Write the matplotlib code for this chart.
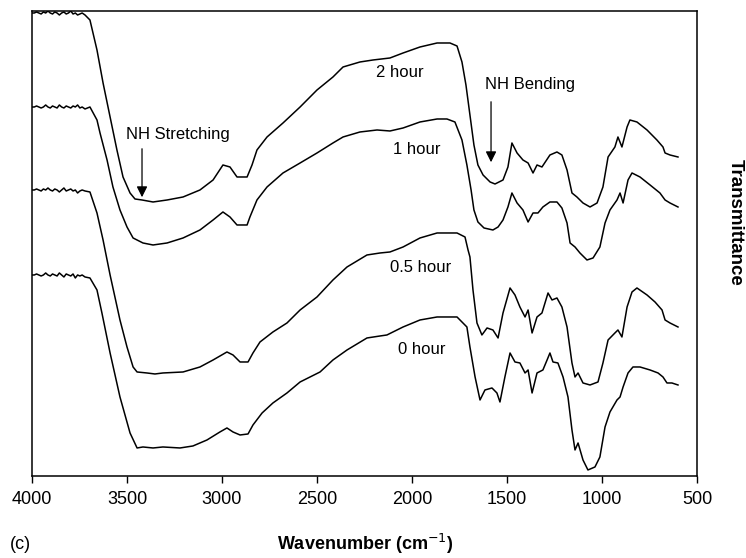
import matplotlib.pyplot as plt

# noisy flat part at the high wavenumber end (shared wavenumber grid)
wn_flat = [4000, 3988, 3976, 3964, 3952, 3940, 3928, 3916, 3904, 3892, 3880, 3868,
           3856, 3844, 3832, 3820, 3808, 3796, 3784, 3772, 3760, 3748, 3736, 3721]

# wavenumber (cm-1) and transmittance (arbitrary, offset)
wn_2h = wn_flat + [
    3695, 3658, 3626, 3589, 3553, 3521, 3484, 3458, 3421, 3363, 3289, 3205, 3116,
    3047, 2995, 2958, 2921, 2868, 2842, 2816, 2763, 2679, 2589, 2500, 2416, 2363,
    2274, 2205, 2116, 2047, 1958, 1868, 1800, 1763, 1737, 1716, 1695, 1674, 1653,
    1626, 1589, 1563, 1521, 1495, 1474, 1447, 1416, 1389, 1363, 1342, 1316, 1274,
    1237, 1211, 1184, 1158, 1132, 1100, 1063, 1026, 995, 968, 932, 916, 895, 868,
    853, 816, 763, 711, 679, 668, 642, 600]
tr_2h = [463, 463, 464, 463, 462, 464, 463, 465, 463, 462, 464, 463,
         461, 463, 464, 462, 463, 465, 462, 463, 461, 462, 463, 461] + [
    456, 426, 393, 359, 326, 299, 283, 277, 276, 274, 276, 279, 286,
    296, 311, 309, 299, 299, 311, 326, 339, 353, 369, 386, 399, 409,
    414, 416, 418, 423, 429, 433, 433, 430, 414, 391, 361, 331, 311,
    301, 294, 292, 296, 309, 333, 323, 316, 313, 303, 311, 309, 321,
    324, 321, 306, 283, 279, 273, 269, 273, 289, 319, 329, 339, 329, 349,
    356, 354, 346, 336, 329, 323, 321, 319]

wn_1h = wn_flat + [
    3695, 3658, 3642, 3605, 3574, 3537, 3500, 3468, 3416, 3363, 3289, 3205, 3116,
    3047, 2995, 2958, 2921, 2868, 2853, 2816, 2763, 2679, 2589, 2500, 2416, 2363,
    2274, 2184, 2116, 2047, 1958, 1868, 1816, 1774, 1737, 1711, 1689, 1674, 1653,
    1621, 1574, 1547, 1521, 1495, 1474, 1447, 1416, 1389, 1363, 1337, 1311, 1274,
    1237, 1211, 1184, 1168, 1142, 1116, 1079, 1047, 1011, 984, 958, 921, 905, 889,
    863, 842, 800, 747, 695, 668, 642, 600]
tr_1h = [369, 369, 370, 369, 368, 369, 371, 369, 368, 370, 369, 368,
         371, 369, 368, 370, 369, 368, 370, 369, 371, 368, 369, 367] + [
    369, 356, 343, 316, 289, 266, 249, 238, 233, 231, 233, 238, 246,
    256, 264, 259, 251, 251, 259, 276, 289, 303, 313, 323, 333, 339,
    344, 346, 345, 348, 354, 357, 357, 354, 336, 311, 286, 266, 254,
    248, 246, 249, 256, 269, 283, 273, 266, 254, 263, 263, 269, 274,
    274, 268, 253, 233, 229, 223, 216, 218, 229, 253, 266, 276, 283, 273,
    296, 303, 299, 291, 283, 276, 273, 269]

wn_05h = wn_flat + [
    3695, 3658, 3626, 3589, 3537, 3500, 3468, 3447, 3395, 3353, 3311, 3205, 3116,
    3047, 2974, 2942, 2905, 2863, 2837, 2800, 2732, 2658, 2589, 2500, 2416, 2342,
    2237, 2168, 2116, 2047, 1958, 1868, 1763, 1721, 1705, 1695, 1679, 1658, 1632,
    1605, 1574, 1547, 1521, 1484, 1458, 1432, 1405, 1389, 1368, 1342, 1316, 1300,
    1284, 1263, 1237, 1211, 1184, 1158, 1142, 1126, 1100, 1063, 1021, 995, 968,
    932, 916, 895, 868, 842, 816, 763, 721, 684, 668, 642, 600]
tr_05h = [286, 286, 287, 286, 285, 287, 286, 288, 286, 285, 287, 286,
          284, 286, 288, 285, 286, 287, 285, 286, 283, 285, 286, 285] + [
    284, 263, 236, 201, 156, 129, 109, 104, 103, 102, 103, 104, 109,
    116, 124, 121, 114, 114, 123, 134, 144, 153, 166, 179, 196, 209,
    221, 223, 224, 229, 238, 243, 243, 239, 226, 219, 186, 153, 141,
    148, 146, 138, 163, 188, 181, 169, 159, 166, 143, 159, 163, 173,
    183, 176, 178, 169, 149, 113, 99, 103, 93, 91, 94, 113, 136,
    143, 146, 139, 169, 184, 188, 181, 174, 166, 156, 153, 149]

wn_0h = wn_flat + [
    3695, 3658, 3632, 3589, 3537, 3484, 3447, 3416, 3363, 3311, 3221, 3153, 3079,
    3011, 2974, 2942, 2905, 2863, 2837, 2789, 2732, 2658, 2589, 2484, 2416, 2342,
    2237, 2168, 2132, 2047, 1958, 1868, 1763, 1711, 1695, 1668, 1642, 1616, 1579,
    1553, 1537, 1511, 1484, 1458, 1432, 1405, 1389, 1368, 1342, 1311, 1289, 1274,
    1258, 1232, 1205, 1179, 1158, 1142, 1126, 1100, 1074, 1037, 1011, 984, 958,
    921, 905, 889, 863, 837, 800, 747, 705, 679, 658, 632, 600]
tr_0h = [201, 201, 202, 201, 200, 201, 203, 201, 200, 202, 201, 200,
         203, 201, 199, 202, 201, 200, 202, 198, 201, 200, 201, 199] + [
    198, 186, 163, 123, 79, 43, 28, 29, 28, 29, 28, 30, 36,
    44, 48, 44, 41, 42, 51, 63, 73, 83, 94, 104, 116, 126,
    138, 140, 141, 149, 156, 159, 159, 149, 129, 99, 76, 86, 88,
    83, 74, 99, 123, 114, 113, 103, 106, 83, 103, 106, 116, 123,
    114, 113, 99, 79, 46, 26, 33, 16, 6, 9, 19, 49, 64,
    76, 79, 89, 103, 109, 109, 106, 103, 99, 93, 93, 91]

curve_labels = ["2 hour", "1 hour", "0.5 hour", "0 hour"]
label_wn = [2063, 1974, 1953, 1947]
label_tr = [403, 326, 208, 126]

plt.rcParams['font.family'] = ['Liberation Sans', 'DejaVu Sans']

fig = plt.figure(figsize=(7.46, 5.58), dpi=100)
ax = fig.add_axes([0.0429, 0.147, 0.8914, 0.8333])

for wn, tr in [(wn_2h, tr_2h), (wn_1h, tr_1h), (wn_05h, tr_05h), (wn_0h, tr_0h)]:
    ax.plot(wn, tr, color='black', lw=1.1)

for txt, x, y in zip(curve_labels, label_wn, label_tr):
    ax.text(x, y, txt, fontsize=12, ha='center', va='center')

ax.annotate("", xy=(3421, 276), xytext=(3421, 330),
            arrowprops=dict(arrowstyle='-|>', color='black', lw=0.9, mutation_scale=16))
ax.text(3232, 341, "NH Stretching", fontsize=12, ha='center', va='center')
ax.annotate("", xy=(1584, 311), xytext=(1584, 377),
            arrowprops=dict(arrowstyle='-|>', color='black', lw=0.9, mutation_scale=16))
ax.text(1379, 391, "NH Bending", fontsize=12, ha='center', va='center')

ax.set_xlim(4000, 500)
ax.set_ylim(0, 465)
ax.set_xticks([4000, 3500, 3000, 2500, 2000, 1500, 1000, 500])
ax.set_yticks([])
ax.tick_params(axis='x', direction='out', length=5, width=1, labelsize=13, pad=6)
for s in ax.spines.values():
    s.set_linewidth(1.1)

fig.text(0.489, 0.025, "Wavenumber (cm$^{-1}$)", fontsize=13, fontweight='bold',
         ha='center', va='center')
fig.text(0.028, 0.025, "(c)", fontsize=13, ha='center', va='center')
fig.text(0.985, 0.602, "Transmittance", fontsize=13.5, fontweight='bold',
         rotation=270, ha='center', va='center')

fig.savefig("out.png", dpi=100)
